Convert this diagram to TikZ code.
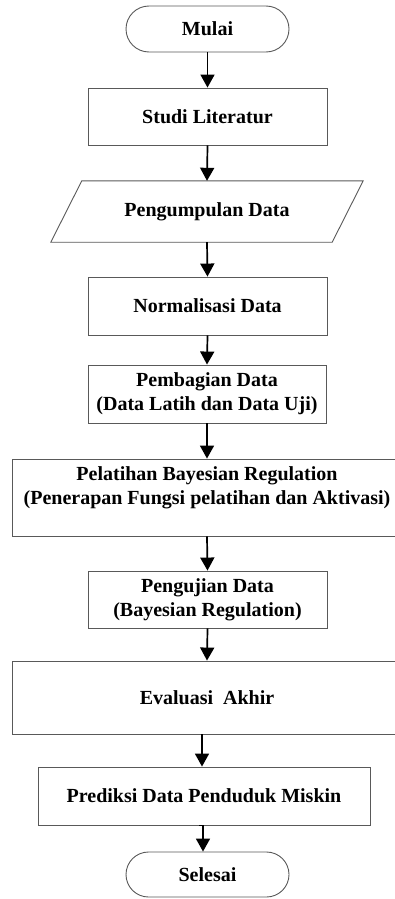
\documentclass[tikz,border=0pt]{standalone}
\usepackage{fontspec}
\setmainfont{Liberation Serif}
\usetikzlibrary{arrows.meta,shapes.misc,calc}
\tikzset{
  box/.style={draw=black!65, line width=0.9pt, rectangle, align=center, inner sep=2pt},
  term/.style={draw=black!65, line width=0.9pt, rounded rectangle, align=center, inner sep=2pt},
  plain/.style={draw=none, rectangle, align=center, inner sep=2pt},
  arr/.style={line width=1.7pt, -{Triangle[width=14pt,length=13pt]}},
  every node/.style={font=\fontsize{20}{24}\selectfont\bfseries, text=black}
}
\begin{document}
\begin{tikzpicture}[x=1pt,y=-1pt]
\useasboundingbox (0,0) rectangle (394,899);
\node[term, minimum width=167pt, minimum height=46pt] (mulai) at (207.5,29) {Mulai};
\node[box, minimum width=239pt, minimum height=57pt] (studi) at (207.5,116.5) {Studi Literatur};
\node[plain, minimum width=312pt, minimum height=61pt] (kumpul) at (207,211.5) {Pengumpulan Data};
\draw[draw=black!65, line width=0.9pt] (kumpul.south west) -- ($(kumpul.north west)+(31,0)$) -- (kumpul.north east) -- ($(kumpul.south east)+(-31,0)$) -- cycle;
\node[box, minimum width=239pt, minimum height=58pt] (normal) at (207.5,306) {Normalisasi Data};
\node[box, minimum width=238pt, minimum height=58pt] (bagi) at (207,394) {Pembagian Data\\(Data Latih dan Data Uji)};
\node[box, minimum width=390pt, minimum height=77pt] (latih) at (207,497.5) {Pelatihan Bayesian Regulation\\(Penerapan Fungsi pelatihan dan Aktivasi)\\\mbox{}};
\node[box, minimum width=239pt, minimum height=57pt] (uji) at (207.5,599.5) {Pengujian Data\\(Bayesian Regulation)};
\node[box, minimum width=390pt, minimum height=73pt] (eval) at (207,697.5) {Evaluasi\ \ Akhir};
\node[box, minimum width=332pt, minimum height=58pt] (pred) at (204,796) {Prediksi Data Penduduk Miskin};
\node[term, minimum width=167pt, minimum height=45pt] (sel) at (207.5,874.5) {Selesai};

\draw[arr] (mulai.south) -- (studi.north);
\draw[arr] (studi.south) -- (kumpul.north);
\draw[arr] (kumpul.south) -- (normal.north);
\draw[arr] (normal.south) -- (bagi.north);
\draw[arr] (bagi.south) -- (latih.north);
\draw[arr] (latih.south) -- (uji.north);
\draw[arr] (uji.south) -- (eval.north);
\draw[arr] ([xshift=-5pt]eval.south) -- ([xshift=-2pt]pred.north);
\draw[arr] ([xshift=-5pt]pred.south) -- ([xshift=-1pt]pred.south) -- ([xshift=-4.5pt]sel.north);
\end{tikzpicture}
\end{document}
